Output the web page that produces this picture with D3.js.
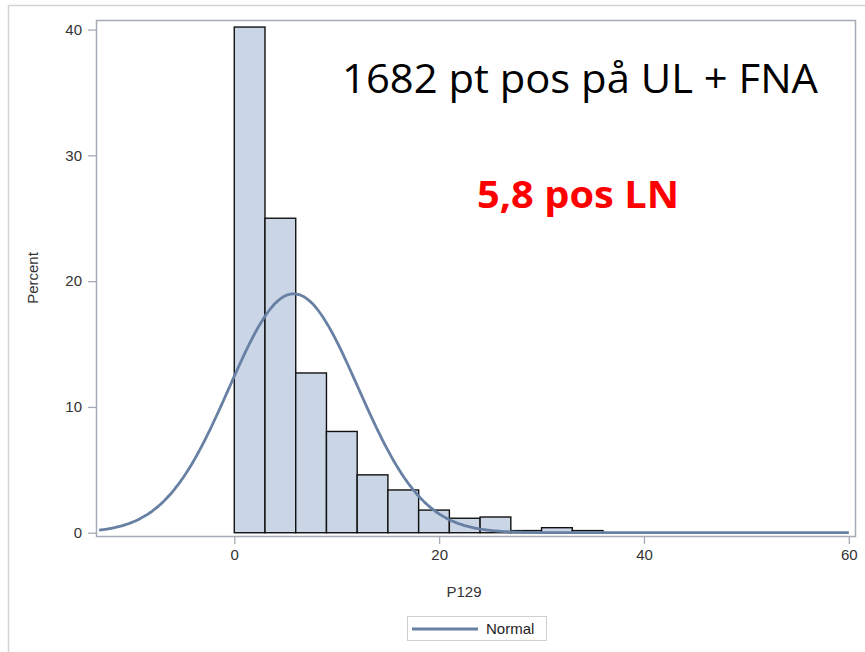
<!DOCTYPE html>
<html>
<head>
<meta charset="utf-8">
<script src="https://cdn.jsdelivr.net/npm/d3@7"></script>
<style>
  html, body { margin: 0; padding: 0; background: #fff; }
  svg { display: block; }
</style>
</head>
<body>
<svg id="chart" width="865" height="652"></svg>
<script>
// Histogram of P129 (number of positive lymph nodes), bin width 3, percent of patients
const binStarts = [0, 3, 6, 9, 12, 15, 18, 21, 24, 27, 30, 33];
const binPercent = [40.2, 25.0, 12.7, 8.05, 4.6, 3.4, 1.8, 1.15, 1.25, 0.17, 0.4, 0.17];
const binWidth = 3;

// Fitted normal curve parameters
const normalMean = 5.8;
const normalSd = 6.3;
const curveRange = [-13.2, 60];

const xTicks = [0, 20, 40, 60];
const yTicks = [0, 10, 20, 30, 40];

const titleText = "1682 pt pos på UL + FNA";
const noteText = "5,8 pos LN";
const xLabel = "P129";
const yLabel = "Percent";
const legendLabel = "Normal";

const svg = d3.select("#chart");

const plot = { left: 96, top: 20, right: 856, bottom: 537 };
const x = d3.scaleLinear().domain([-13.5, 60.7]).range([plot.left, plot.right]);
const y = d3.scaleLinear().domain([-0.34, 40.76]).range([plot.bottom, plot.top]);

const barFill = "#cad5e5";
const curveColor = "#6880a4";
const axisColor = "#a4abb4";
const textColor = "#333";
const uiFont = "'Liberation Sans', Arial, sans-serif";

// outer panel border
svg.append("path")
  .attr("d", "M8.5,652 L8.5,5.5 L865,5.5")
  .attr("fill", "none")
  .attr("stroke", "#d4d4d4")
  .attr("stroke-width", 1.5);

// plot frame
svg.append("rect")
  .attr("x", plot.left + 0.5).attr("y", plot.top + 0.5)
  .attr("width", plot.right - plot.left - 1).attr("height", plot.bottom - plot.top - 1)
  .attr("fill", "#fff")
  .attr("stroke", axisColor)
  .attr("stroke-width", 1.5);

// histogram bars
const bins = binStarts.map((s, i) => ({ x0: s, x1: s + binWidth, v: binPercent[i] }));
svg.append("g")
  .selectAll("rect")
  .data(bins)
  .join("rect")
  .attr("x", d => x(d.x0))
  .attr("y", d => y(d.v))
  .attr("width", d => x(d.x1) - x(d.x0))
  .attr("height", d => y(0) - y(d.v))
  .attr("fill", barFill)
  .attr("stroke", "#111")
  .attr("stroke-width", 1.4);

// normal density scaled to percent per bin
const normalPct = v => 100 * binWidth / (normalSd * Math.sqrt(2 * Math.PI)) *
  Math.exp(-((v - normalMean) ** 2) / (2 * normalSd * normalSd));
const curvePts = d3.range(curveRange[0], curveRange[1] + 0.001, 0.2).map(v => [v, normalPct(v)]);
svg.append("path")
  .datum(curvePts)
  .attr("fill", "none")
  .attr("stroke", curveColor)
  .attr("stroke-width", 2.8)
  .attr("d", d3.line().x(d => x(d[0])).y(d => y(d[1])).curve(d3.curveBasis));

// axes
const xAxis = d3.axisBottom(x).tickValues(xTicks).tickSize(7).tickPadding(5).tickSizeOuter(0);
const gx = svg.append("g").attr("transform", `translate(0,${plot.bottom})`).call(xAxis);
const yAxis = d3.axisLeft(y).tickValues(yTicks).tickSize(8).tickPadding(6).tickSizeOuter(0);
const gy = svg.append("g").attr("transform", `translate(${plot.left},0)`).call(yAxis);
[gx, gy].forEach(g => {
  g.select(".domain").remove();
  g.selectAll(".tick line").attr("stroke", axisColor).attr("stroke-width", 1.3);
  g.selectAll(".tick text")
    .attr("fill", textColor)
    .style("font-family", uiFont)
    .style("font-size", "15px");
});

// axis labels
svg.append("text")
  .attr("x", 464).attr("y", 597)
  .attr("text-anchor", "middle")
  .attr("fill", textColor)
  .style("font-family", uiFont)
  .style("font-size", "15px")
  .text(xLabel);
svg.append("text")
  .attr("transform", "translate(38,278) rotate(-90)")
  .attr("text-anchor", "middle")
  .attr("fill", textColor)
  .style("font-family", uiFont)
  .style("font-size", "15px")
  .text(yLabel);

// annotations
svg.append("text")
  .attr("x", 342).attr("y", 93)
  .attr("textLength", 476).attr("lengthAdjust", "spacingAndGlyphs")
  .attr("fill", "#000")
  .style("font-family", "'Open Sans', 'Noto Sans', sans-serif")
  .style("font-size", "40px")
  .text(titleText);
svg.append("text")
  .attr("x", 477).attr("y", 208)
  .attr("textLength", 202).attr("lengthAdjust", "spacingAndGlyphs")
  .attr("fill", "#ff0000")
  .style("font-family", "'Open Sans', 'Noto Sans', sans-serif")
  .style("font-weight", "bold")
  .style("font-size", "37px")
  .text(noteText);

// legend
const lg = svg.append("g");
lg.append("rect")
  .attr("x", 407.5).attr("y", 616.5).attr("width", 139).attr("height", 24)
  .attr("fill", "#fff").attr("stroke", "#cfcfcf").attr("stroke-width", 1);
lg.append("line")
  .attr("x1", 412).attr("x2", 478).attr("y1", 629).attr("y2", 629)
  .attr("stroke", curveColor).attr("stroke-width", 2.8);
lg.append("text")
  .attr("x", 486).attr("y", 634)
  .attr("fill", "#222")
  .style("font-family", uiFont)
  .style("font-size", "15px")
  .text(legendLabel);
</script>
</body>
</html>
